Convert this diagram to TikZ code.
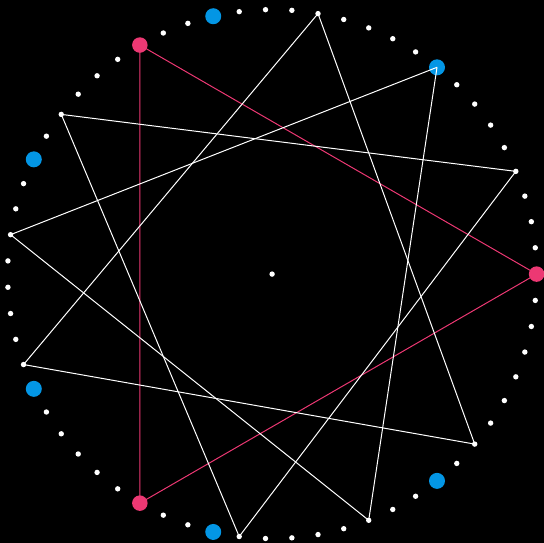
\documentclass[tikz,border=0pt]{standalone}
\definecolor{pinkc}{RGB}{236,56,115}
\definecolor{bluec}{RGB}{3,150,229}
\begin{document}
\begin{tikzpicture}[x=1pt,y=1pt,
  dot/.style={circle,fill=white,draw=none,inner sep=0pt,minimum size=5.4pt},
  bigblue/.style={circle,fill=bluec,draw=none,inner sep=0pt,minimum size=16pt},
  bigpink/.style={circle,fill=pinkc,draw=none,inner sep=0pt,minimum size=15.5pt},
  wline/.style={draw=white,line width=1pt,line join=round},
  pline/.style={draw=pinkc,line width=1pt,line join=round}]
\fill[black] (0,0) rectangle (544,543);
\useasboundingbox (0,0) rectangle (544,543);
\coordinate (c) at (272.1,268.9);
\node[dot] (center) at (c) {};
\foreach \k in {0,...,62} {
  \pgfmathsetmacro\ang{\k*5.7142857}
  \pgfmathtruncatemacro\m{mod(\k,21)}
  \pgfmathtruncatemacro\n{mod(\k,9)}
  \ifnum\m=0
    \node[bigpink] (p\k) at ([shift={(\ang:264.5)}]c) {};
  \else\ifnum\n=0
    \node[bigblue] (p\k) at ([shift={(\ang:264.5)}]c) {};
  \else
    \node[dot] (p\k) at ([shift={(\ang:264.5)}]c) {};
  \fi\fi
}
\draw[pline] (p0.center) -- (p21.center) -- (p42.center) -- cycle;
\draw[wline] (p4.center) -- (p25.center) -- (p46.center) -- cycle;
\draw[wline] (p9.center) -- (p30.center) -- (p51.center) -- cycle;
\draw[wline] (p14.center) -- (p35.center) -- (p56.center) -- cycle;
\end{tikzpicture}
\end{document}
